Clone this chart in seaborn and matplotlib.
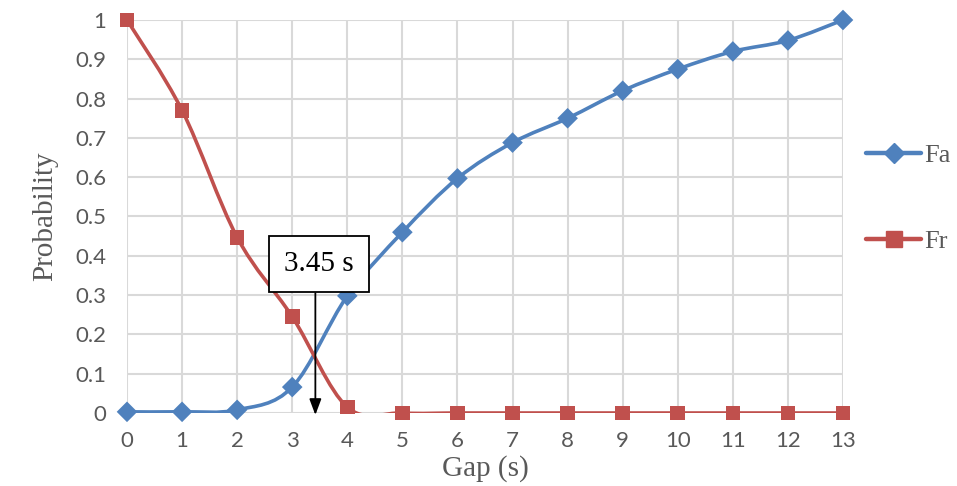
import numpy as np
import pandas as pd
import seaborn as sns
import matplotlib
matplotlib.use("Agg")
import matplotlib.pyplot as plt
from matplotlib.path import Path
from matplotlib.patches import PathPatch
from matplotlib.lines import Line2D

# values
gap = [0, 1, 2, 3, 4, 5, 6, 7, 8, 9, 10, 11, 12, 13]
fa = [0.003, 0.003, 0.008, 0.066, 0.298, 0.46, 0.597, 0.688, 0.75, 0.82, 0.875, 0.92, 0.948, 1.0]
fr = [1.0, 0.77, 0.447, 0.245, 0.015, 0.0, 0.0, 0.0, 0.0, 0.0, 0.0, 0.0, 0.0, 0.0]
crossing = 3.45
yticks = ["0", "0.1", "0.2", "0.3", "0.4", "0.5", "0.6", "0.7", "0.8", "0.9", "1"]

blue = "#4F81BD"
red = "#C0504D"
grey_txt = "#595959"

df = pd.DataFrame({"Gap": gap * 2, "Probability": fa + fr,
                   "Series": ["Fa"] * len(gap) + ["Fr"] * len(gap)})

sns.set_theme(style="white")
plt.rcParams["font.family"] = ["Lato", "DejaVu Sans"]

fig = plt.figure(figsize=(9.57, 4.86), dpi=100)
ax = fig.add_axes([127 / 957, 1 - 413 / 486, (843 - 127) / 957, (413 - 20) / 486])


def smooth_path(xs, ys):
    # Excel-style smoothed line as cubic bezier segments
    pts = np.column_stack([xs, ys])
    verts = [pts[0]]
    codes = [Path.MOVETO]
    n = len(pts)
    for i in range(n - 1):
        p0 = pts[max(i - 1, 0)]
        p1 = pts[i]
        p2 = pts[i + 1]
        p3 = pts[min(i + 2, n - 1)]
        c1 = p1 + (p2 - p0) / 6
        c2 = p2 - (p3 - p1) / 6
        verts += [c1, c2, p2]
        codes += [Path.CURVE4] * 3
    return Path(verts, codes)


for vals, col in [(fa, blue), (fr, red)]:
    ax.add_patch(PathPatch(smooth_path(gap, vals), facecolor="none", edgecolor=col,
                           lw=2.6, capstyle="round", joinstyle="round", zorder=3))

sns.scatterplot(data=df, x="Gap", y="Probability", hue="Series", style="Series",
                markers={"Fa": "D", "Fr": "s"}, palette={"Fa": blue, "Fr": red},
                s=110, edgecolor="none", legend=False, ax=ax, zorder=4)
for c in ax.collections:
    c.set_clip_on(False)

ax.set_xlim(0, 13)
ax.set_ylim(0, 1)
ax.set_xticks(range(0, 14))
ax.set_yticks(np.arange(0, 1.01, 0.1))
ax.set_yticklabels(yticks)
ax.grid(True, color="#d9d9d9", lw=1.5)
ax.set_axisbelow(True)
for s in ax.spines.values():
    s.set_visible(False)
ax.tick_params(axis="both", length=0, labelsize=16, labelcolor=grey_txt)
ax.tick_params(axis="y", pad=15)
ax.tick_params(axis="x", pad=13)

ax.set_xlabel("Gap (s)", family="Liberation Serif", fontsize=21, color=grey_txt, labelpad=3)
ax.set_ylabel("Probability", family="Liberation Serif", fontsize=21, color=grey_txt, labelpad=12)

# label box and arrow down to the crossing point
ax.text(crossing + 0.04, 0.379, f"{crossing} s", ha="center", va="center",
        family="Liberation Serif", fontsize=21, color="black", zorder=6,
        bbox=dict(boxstyle="square,pad=0.52", fc="white", ec="black", lw=1.3))
ax.annotate("", xy=(crossing - 0.03, -0.005), xytext=(crossing - 0.03, 0.305),
            arrowprops=dict(arrowstyle="-|>,head_width=0.3,head_length=0.8", color="black", lw=1.3,
                            shrinkA=0, shrinkB=0),
            annotation_clip=False, zorder=6)

handles = [Line2D([], [], color=blue, lw=3.2, marker="D", markersize=10),
           Line2D([], [], color=red, lw=3.2, marker="s", markersize=11)]
leg = fig.legend(handles, ["Fa", "Fr"], loc="upper left", bbox_to_anchor=(866 / 957, 1 - 144 / 486),
                 frameon=False, borderpad=0, borderaxespad=0, handlelength=2.1, handletextpad=0.1,
                 labelspacing=2.35, prop={"family": "Liberation Serif", "size": 19})
for t in leg.get_texts():
    t.set_color(grey_txt)

fig.savefig("out.png", dpi=100)
